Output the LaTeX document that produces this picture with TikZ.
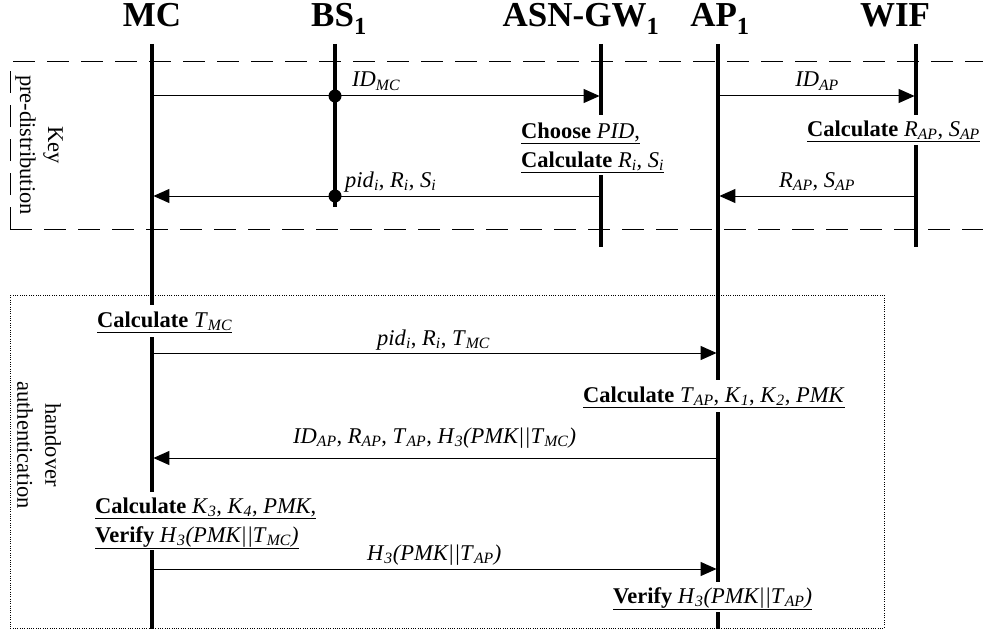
\documentclass[tikz,border=0pt]{standalone}
\usepackage{fontspec}
\setmainfont{Liberation Serif}
\usetikzlibrary{arrows.meta}
\newcommand\vv[2]{\textit{#1}\textsubscript{\textit{#2}}}
\begin{document}
\begin{tikzpicture}[x=1pt,y=-1pt,
  life/.style={line width=3.3pt},
  msg/.style={line width=1pt,-{Triangle[length=16pt,width=14pt]},shorten >=1.4pt},
  lbl/.style={font=\fontsize{22.5}{29}\selectfont, inner sep=0pt},
  ttl/.style={font=\fontsize{35}{40}\selectfont\bfseries, inner sep=0pt, anchor=base},
  phase/.style={font=\fontsize{22.5}{28}\selectfont, inner sep=0pt, rotate=-90, align=center},
  dashbox/.style={line width=1pt, dash pattern=on 22pt off 12pt},
  dotbox/.style={line width=0.9pt, dash pattern=on 1pt off 1.3pt}]
\useasboundingbox (0,0) rectangle (983,634);

% titles
\node[ttl] (tMC)  at (152,27) {MC};
\node[ttl] (tBS)  at (339,27) {BS\textsubscript{1}};
\node[ttl] (tASN) at (581,27) {ASN-GW\textsubscript{1}};
\node[ttl] (tAP)  at (720,27) {AP\textsubscript{1}};
\node[ttl] (tWIF) at (895,27) {WIF};

% phase boxes
\draw[dashbox] (10,229) -- (10,62) -- (983,62);
\draw[dashbox] (10,229) -- (983,229);
\draw[dotbox] (10,295) rectangle (884,628);
\node[phase] (pKey) at (39,145) {Key\\pre-distribution};
\node[phase] (pHand) at (39,445) {handover\\authentication};

% lifelines
\coordinate (mc0) at (152,44);  \coordinate (mc1) at (152,305);
\coordinate (mc2) at (152,337); \coordinate (mc3) at (152,492);
\coordinate (mc4) at (152,550); \coordinate (mc5) at (152,629);
\draw[life] (mc0) -- (mc1) (mc2) -- (mc3) (mc4) -- (mc5);
\coordinate (bs0) at (335,44); \coordinate (bs1) at (335,207);
\draw[life] (bs0) -- (bs1);
\coordinate (gw0) at (601,44);  \coordinate (gw1) at (601,115);
\coordinate (gw2) at (601,175); \coordinate (gw3) at (601,247);
\draw[life] (gw0) -- (gw1) (gw2) -- (gw3);
\coordinate (ap0) at (718,44);  \coordinate (ap1) at (718,380);
\coordinate (ap2) at (718,412); \coordinate (ap3) at (718,582);
\coordinate (ap4) at (718,612); \coordinate (ap5) at (718,629);
\draw[life] (ap0) -- (ap1) (ap2) -- (ap3) (ap4) -- (ap5);
\coordinate (wf0) at (916,44);  \coordinate (wf1) at (916,115);
\coordinate (wf2) at (916,145); \coordinate (wf3) at (916,247);
\draw[life] (wf0) -- (wf1) (wf2) -- (wf3);

% message end points
\coordinate (m1a) at (152,96);  \coordinate (m1b) at (601,96);  \coordinate (m1d) at (335,96);
\coordinate (m2a) at (601,196); \coordinate (m2b) at (152,196); \coordinate (m2d) at (335,196);
\coordinate (m3a) at (718,96);  \coordinate (m3b) at (916,96);
\coordinate (m4a) at (916,196); \coordinate (m4b) at (718,196);
\coordinate (m5a) at (152,353); \coordinate (m5b) at (718,353);
\coordinate (m6a) at (718,458); \coordinate (m6b) at (152,458);
\coordinate (m7a) at (152,569); \coordinate (m7b) at (718,569);

% messages
\draw[msg] (m1a) -- (m1b);
\fill (m1d) circle (6.5pt);
\draw[msg] (m2a) -- (m2b);
\fill (m2d) circle (6.5pt);
\draw[msg] (m3a) -- (m3b);
\draw[msg] (m4a) -- (m4b);
\draw[msg] (m5a) -- (m5b);
\draw[msg] (m6a) -- (m6b);
\draw[msg] (m7a) -- (m7b);

% message labels
\node[lbl, anchor=base west] (l1) at (352,87) {\vv{ID}{MC}};
\node[lbl, anchor=base west] (l2) at (345,187) {\vv{pid}{i}, \vv{R}{i}, \vv{S}{i}};
\node[lbl, anchor=base] (l3) at (817,87) {\vv{ID}{AP}};
\node[lbl, anchor=base] (l4) at (817,187) {\vv{R}{AP}, \vv{S}{AP}};
\node[lbl, anchor=base west] (l5) at (377,345) {\vv{pid}{i}, \vv{R}{i}, \vv{T}{MC}};
\node[lbl, anchor=base west] (l6) at (293,443) {\vv{ID}{AP}, \vv{R}{AP}, \vv{T}{AP}, \vv{H}{3}\textit{(PMK||}\vv{T}{MC}\textit{)}};
\node[lbl, anchor=base west] (l7) at (367,560) {\vv{H}{3}\textit{(PMK||}\vv{T}{AP}\textit{)}};

% actions
\node[lbl, anchor=base west] (a1) at (521,138) {\underline{\textbf{Choose} \textit{PID},}};
\node[lbl, anchor=base west] (a2) at (521,167) {\underline{\textbf{Calculate} \vv{R}{i}, \vv{S}{i}}};
\node[lbl, anchor=base west] (a3) at (807,136) {\underline{\textbf{Calculate} \vv{R}{AP}, \vv{S}{AP}}};
\node[lbl, anchor=base west] (a4) at (97,327) {\underline{\textbf{Calculate} \vv{T}{MC}}};
\node[lbl, anchor=base west] (a5) at (583,402) {\underline{\textbf{Calculate} \vv{T}{AP}, \vv{K}{1}, \vv{K}{2}, \textit{PMK}}};
\node[lbl, anchor=base west] (a6) at (95,513) {\underline{\textbf{Calculate} \vv{K}{3}, \vv{K}{4}, \textit{PMK},}};
\node[lbl, anchor=base west] (a7) at (95,542) {\underline{\textbf{Verify} \vv{H}{3}\textit{(PMK||}\vv{T}{MC}\textit{)}}};
\node[lbl, anchor=base west] (a8) at (613,603) {\underline{\textbf{Verify} \vv{H}{3}\textit{(PMK||}\vv{T}{AP}\textit{)}}};
\end{tikzpicture}
\end{document}
